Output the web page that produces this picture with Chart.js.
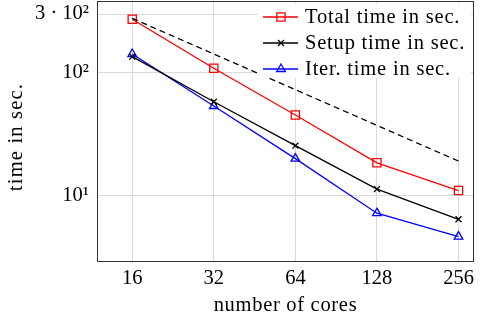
<!DOCTYPE html>
<html><head><meta charset="utf-8">
<script src="https://cdn.jsdelivr.net/npm/chart.js@4/dist/chart.umd.min.js"></script>
<style>html,body{margin:0;padding:0;background:#fff}#wrap{width:481px;height:318px}</style>
</head><body><div id="wrap"><canvas id="c" width="481" height="318"></canvas></div>
<script>
const cores = [16, 32, 64, 128, 256];
const totalTime = [272, 108.6, 45.3, 18.5, 11];
const setupTime = [135, 58, 25.5, 11.3, 6.42];
const iterTime = [142, 53.6, 20, 7.2, 4.64];
const idealCores = [16, 256];
const idealTime = [277, 19.1];
const xTicks = [16, 32, 64, 128, 256];
const yTickValues = [10, 100, 300];
const yTickLabels = ['10¹', '10²', '3 · 10²'];
const seriesLabels = ['Total time in sec.', 'Setup time in sec.', 'Iter. time in sec.'];
const xTitle = 'number of cores';
const yTitle = 'time in sec.';

const FONT = 'Liberation Serif';
const pts = (xs, ys) => xs.map((x, i) => ({x: x, y: ys[i]}));

const legendPlugin = {
  id: 'innerLegend',
  afterDatasetsDraw(chart) {
    const ctx = chart.ctx;
    const a = chart.chartArea;
    ctx.save();
    ctx.fillStyle = '#fff';
    ctx.fillRect(258, a.top + 3, a.right - 261, 74);
    const rows = [17, 43, 69];
    let r = 0;
    chart.data.datasets.forEach((ds) => {
      if (!ds.inLegend) return;
      const y = rows[r++];
      ctx.strokeStyle = ds.borderColor;
      ctx.lineWidth = ds.borderWidth;
      ctx.setLineDash([]);
      ctx.beginPath(); ctx.moveTo(263, y); ctx.lineTo(298, y); ctx.stroke();
      ctx.fillStyle = 'rgba(0,0,0,0)';
      Chart.helpers.drawPoint(ctx, {pointStyle: ds.pointStyle, radius: ds.pointRadius, borderWidth: ds.pointBorderWidth}, 281, y);
      ctx.fillStyle = '#000';
      ctx.font = '20.5px "' + FONT + '"';
      ctx.letterSpacing = '0.8px';
      ctx.textBaseline = 'alphabetic';
      ctx.textAlign = 'left';
      ctx.fillText(ds.label, 305, y + 6);
    });
    ctx.restore();
  },
  afterDraw(chart) {
    const ctx = chart.ctx, a = chart.chartArea;
    ctx.save();
    ctx.strokeStyle = '#333';
    ctx.lineWidth = 1;
    ctx.strokeRect(Math.round(a.left) + 0.5, Math.round(a.top) + 0.5, Math.round(a.right - a.left) - 1, Math.round(a.bottom - a.top));
    ctx.fillStyle = '#000';
    ctx.font = '20.5px "' + FONT + '"';
    ctx.letterSpacing = '0.7px';
    ctx.textAlign = 'center';
    ctx.textBaseline = 'alphabetic';
    ctx.fillText(xTitle, (a.left + a.right) / 2, 311);
    ctx.translate(22, 137);
    ctx.rotate(-Math.PI / 2);
    ctx.letterSpacing = '1.2px';
    ctx.fillText(yTitle, 0, 0);
    ctx.restore();
  }
};

const mk = (label, data, color, style, radius) => ({
  label: label, data: data, borderColor: color, borderWidth: 1.3,
  pointStyle: style, pointRadius: radius, pointHoverRadius: radius,
  pointBorderColor: color, pointBackgroundColor: 'rgba(0,0,0,0)', pointBorderWidth: 1.3,
  fill: false, tension: 0, inLegend: true, clip: false
});

const zeroPad = s => { s.paddingTop = 0; s.paddingBottom = 0; s.paddingLeft = 0; s.paddingRight = 0; };

new Chart(document.getElementById('c'), {
  type: 'line',
  data: {
    datasets: [
      {label: 'ideal', data: pts(idealCores, idealTime), borderColor: '#000', borderWidth: 1.3,
       borderDash: [6, 4], pointRadius: 0, fill: false, inLegend: false},
      mk(seriesLabels[0], pts(cores, totalTime), '#ff0000', 'rect', 5.8),
      mk(seriesLabels[1], pts(cores, setupTime), '#000000', 'crossRot', 4.2),
      mk(seriesLabels[2], pts(cores, iterTime), '#0000ff', 'triangle', 5)
    ]
  },
  options: {
    responsive: false, devicePixelRatio: 1, animation: false,
    layout: {autoPadding: false, padding: {top: 1, right: 7, left: 0, bottom: 0}},
    plugins: {legend: {display: false}, tooltip: {enabled: false}},
    scales: {
      x: {
        type: 'logarithmic', min: 11.86, max: 292,
        afterBuildTicks: s => { s.ticks = xTicks.map(v => ({value: v})); },
        afterFit: s => { s.height = 57; zeroPad(s); },
        ticks: {callback: v => String(v), color: '#000', font: {family: FONT, size: 20.5}, padding: 5, maxRotation: 0, autoSkip: false},
        grid: {color: '#dadada', lineWidth: 1, drawTicks: false},
        border: {display: false},
        title: {display: false}
      },
      y: {
        type: 'logarithmic', min: 2.94, max: 383,
        afterBuildTicks: s => { s.ticks = yTickValues.map(v => ({value: v})); },
        afterFit: s => { s.width = 97; zeroPad(s); },
        ticks: {callback: (v) => yTickLabels[yTickValues.indexOf(v)], color: '#000', font: {family: FONT, size: 20.5}, padding: 8, autoSkip: false},
        grid: {color: '#dadada', lineWidth: 1, drawTicks: false},
        border: {display: false},
        title: {display: false}
      }
    }
  },
  plugins: [legendPlugin]
});
</script>
</body></html>
